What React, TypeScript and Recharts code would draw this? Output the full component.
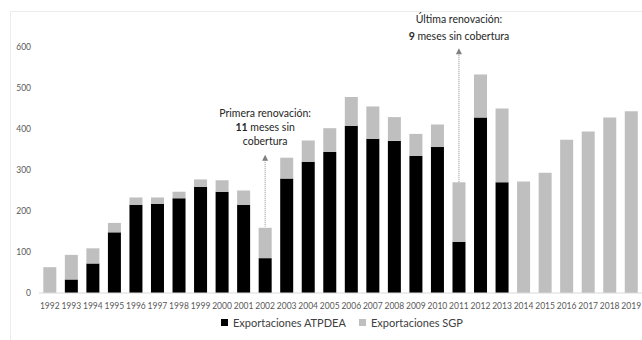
import { BarChart, Bar, XAxis, YAxis, ReferenceLine, ReferenceDot } from 'recharts'

const years = [
  '1992', '1993', '1994', '1995', '1996', '1997', '1998', '1999', '2000', '2001',
  '2002', '2003', '2004', '2005', '2006', '2007', '2008', '2009', '2010', '2011',
  '2012', '2013', '2014', '2015', '2016', '2017', '2018', '2019',
]
const atpdea = [
  0, 33, 72, 148, 215, 217, 231, 259, 247, 215,
  85, 279, 320, 344, 408, 376, 371, 335, 356, 125,
  428, 270, 0, 0, 0, 0, 0, 0,
]
const sgp = [
  63, 60, 37, 23, 18, 16, 16, 18, 28, 35,
  74, 51, 52, 58, 70, 79, 58, 53, 55, 145,
  105, 180, 272, 293, 374, 394, 428, 443,
]
const yTicks = [0, 100, 200, 300, 400, 500, 600]

const data = years.map((year, i) => ({ year, atpdea: atpdea[i], sgp: sgp[i] }))

const FONT = 'Lato, "Open Sans", sans-serif'
const BLACK = '#000000'
const GREY = '#bfbfbf'

// dotted line with an arrowhead at the top end
function Arrow(props: any) {
  const { x1, y1, x2, y2 } = props
  const top = Math.min(y1, y2)
  const bottom = Math.max(y1, y2)
  const x = x1 ?? x2
  return (
    <g>
      <line x1={x} x2={x} y1={top + 5} y2={bottom} stroke="#8c8c8c" strokeWidth={1} strokeDasharray="1 1" />
      <path d={`M${x - 3},${top + 6} L${x},${top} L${x + 3},${top + 6} Z`} fill="#7f7f7f" />
    </g>
  )
}

function FirstNote(props: any) {
  const { cx, cy } = props
  return (
    <text x={cx} y={cy} textAnchor="middle" fontFamily={FONT} fontSize={10.5} fill="#262626">
      <tspan x={cx} dy={0}>Primera renovación:</tspan>
      <tspan x={cx} dy={14}><tspan fontWeight="bold">11</tspan> meses sin</tspan>
      <tspan x={cx} dy={14.5}>cobertura</tspan>
    </text>
  )
}

function LastNote(props: any) {
  const { cx, cy } = props
  return (
    <text x={cx} y={cy - 24} textAnchor="middle" fontFamily={FONT} fontSize={10.5} fill="#262626">
      <tspan x={cx} dy={0}>Última renovación:</tspan>
      <tspan x={cx} dy={17}><tspan fontWeight="bold">9</tspan> meses sin cobertura</tspan>
    </text>
  )
}

function LegendRow() {
  const item = (color: string, label: string, left: number) => (
    <span style={{ position: 'absolute', left, top: 0, display: 'inline-flex', alignItems: 'center', whiteSpace: 'nowrap' }}>
      <span style={{ width: 7, height: 7, background: color, display: 'inline-block', marginRight: 5 }} />
      {label}
    </span>
  )
  return (
    <div
      style={{
        position: 'absolute',
        top: 316,
        left: 0,
        fontFamily: FONT,
        fontSize: 11,
        color: '#404040',
      }}
    >
      {item(BLACK, 'Exportaciones ATPDEA', 221)}
      {item(GREY, 'Exportaciones SGP', 359)}
    </div>
  )
}

export default function App() {
  return (
    <div style={{ position: 'absolute', left: 0, top: 0, width: 642, height: 340, background: '#fff', overflow: 'hidden' }}>
      <div
        style={{
          position: 'absolute',
          left: 10,
          top: 11,
          width: 700,
          height: 400,
          borderTop: '1px solid #ececec',
          borderLeft: '1px solid #ececec',
        }}
      />
      <BarChart
        width={642}
        height={340}
        data={data}
        margin={{ top: 47, right: 0, bottom: 0, left: 0 }}
        barCategoryGap="20%"
        style={{ position: 'absolute', left: 0, top: 0 }}
      >
        <XAxis
          dataKey="year"
          interval={0}
          tickLine={false}
          axisLine={{ stroke: '#d9d9d9' }}
          tick={{ fontSize: 8.5, fill: '#595959', fontFamily: FONT }}
          height={47}
          tickMargin={4}
        />
        <YAxis
          domain={[0, 600]}
          ticks={yTicks}
          width={39}
          axisLine={false}
          tickLine={false}
          tick={{ fontSize: 8.5, fill: '#595959', fontFamily: FONT }}
        />
        <Bar dataKey="atpdea" stackId="a" fill={BLACK} isAnimationActive={false} />
        <Bar dataKey="sgp" stackId="a" fill={GREY} isAnimationActive={false} />
        <ReferenceLine
          segment={[{ x: '2002', y: 162 }, { x: '2002', y: 337 }]}
          shape={Arrow}
        />
        <ReferenceLine
          segment={[{ x: '2011', y: 270 }, { x: '2011', y: 597 }]}
          shape={Arrow}
        />
        <ReferenceDot x="2002" y={430} r={0} shape={FirstNote} ifOverflow="visible" />
        <ReferenceDot x="2011" y={600} r={0} shape={LastNote} ifOverflow="visible" />
      </BarChart>
      <LegendRow />
    </div>
  )
}
